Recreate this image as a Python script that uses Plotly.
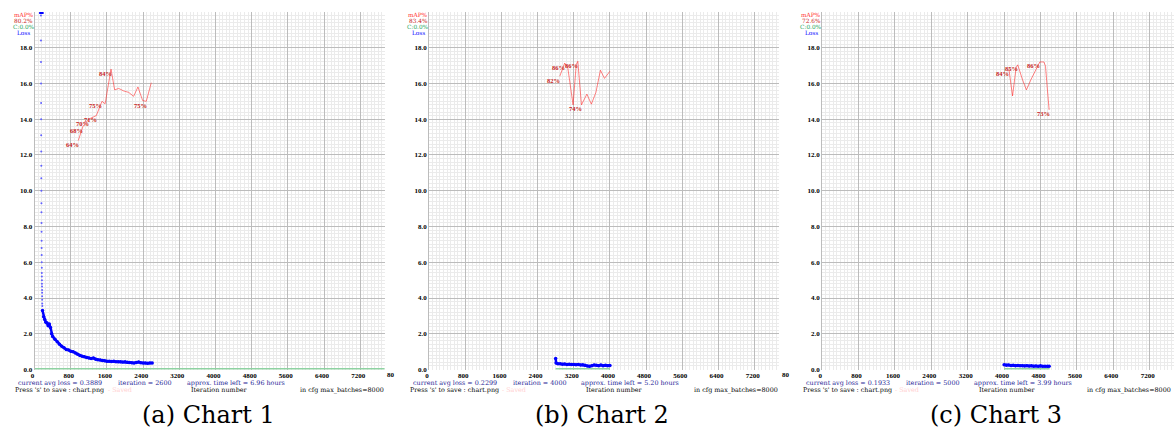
import numpy as np
import plotly.graph_objects as go

# ---------------- data ----------------
MAX_BATCHES = 8000
LOSS_MAX = 20.0
X_END = 7740  # visible part of the iteration axis (the right edge of each chart is cropped)

X_TICKS = [0, 800, 1600, 2400, 3200, 4000, 4800, 5600, 6400, 7200]
Y_TICKS = [0.0, 2.0, 4.0, 6.0, 8.0, 10.0, 12.0, 14.0, 16.0, 18.0]

CAPTIONS = ["(a) Chart 1", "(b) Chart 2", "(c) Chart 3"]
AVG_LOSS = [0.3889, 0.2299, 0.1933]
ITERATION = [2600, 4000, 5000]
TIME_LEFT = [6.96, 5.20, 3.99]
MAP_NOW = [80.2, 83.4, 72.6]
CONTRASTIVE = [0.0, 0.0, 0.0]

# Chart 1 -------------------------------------------------------------
LOSS1_CLIPPED_ITERS = [100, 200]          # loss above the chart maximum (drawn at the top)
LOSS1_CLIPPED = [20.0, 20.0]
LOSS1_SPIKE_ITERS = list(range(140, 171))
LOSS1_SPIKE = [19.8, 18.4, 17.2, 16.0, 14.9, 14.0, 13.1, 12.2, 11.4, 10.7, 10.0,
               9.3, 8.8, 8.2, 7.7, 7.2, 6.8, 6.4, 6.0, 5.7, 5.4, 5.2, 5.0, 4.8,
               4.65, 4.45, 4.3, 4.1, 3.9, 3.7, 3.55]
LOSS1_ITERS = [175, 200, 225, 250, 275, 300, 325, 350, 375, 400, 450, 500, 550, 600,
               650, 700, 750, 800, 850, 900, 950, 1000, 1050, 1100, 1150, 1200, 1250,
               1300, 1350, 1400, 1450, 1500, 1550, 1600, 1650, 1700, 1750, 1800, 1850,
               1900, 1950, 2000, 2050, 2100, 2150, 2200, 2250, 2300, 2350, 2400, 2450,
               2500, 2550, 2600]
LOSS1 = [3.3, 2.95, 2.8, 2.65, 2.6, 2.45, 2.55, 2.35, 2.0, 1.85, 1.7, 1.55, 1.42, 1.3,
         1.22, 1.12, 1.1, 1.02, 1.0, 0.93, 0.85, 0.78, 0.75, 0.72, 0.68, 0.65, 0.62,
         0.64, 0.58, 0.55, 0.53, 0.5, 0.49, 0.47, 0.46, 0.45, 0.46, 0.44, 0.43, 0.44,
         0.42, 0.43, 0.41, 0.4, 0.38, 0.37, 0.39, 0.42, 0.38, 0.36, 0.37, 0.35, 0.37, 0.36]
MAP1_ITERS = [965, 1070, 1195, 1365, 1490, 1560, 1690, 1770, 1860, 1970, 2080, 2190,
              2285, 2390, 2470, 2580]
MAP1 = [64, 68, 70, 71, 75, 74.3, 84, 78.2, 78.6, 77.9, 77.5, 76.4, 79.0, 75.2, 75.0, 80.2]
MAP1_LABELLED = [0, 1, 2, 3, 4, 6, 14]
C1_ITERS = [0, 8000]

# Chart 2 -------------------------------------------------------------
LOSS2_ITERS = [2800, 2810, 2850, 2900, 2950, 3000, 3050, 3100, 3150, 3200, 3250, 3300,
               3350, 3400, 3450, 3500, 3550, 3600, 3650, 3700, 3750, 3800, 3850, 3900,
               3950, 4000]
LOSS2 = [0.62, 0.36, 0.33, 0.32, 0.3, 0.31, 0.29, 0.3, 0.28, 0.29, 0.27, 0.28, 0.26,
         0.27, 0.24, 0.2, 0.19, 0.22, 0.26, 0.24, 0.22, 0.25, 0.21, 0.24, 0.22, 0.23]
MAP2_ITERS = [2890, 3000, 3070, 3185, 3255, 3290, 3370, 3490, 3590, 3690, 3790, 3880, 4000]
MAP2 = [82, 85.7, 84.2, 74.0, 85.3, 86.2, 74.0, 77.0, 74.2, 77.5, 83.7, 81.4, 83.4]
MAP2_LABELLED = [0, 1, 5, 6]
C2_ITERS = [2800, 4000]

# Chart 3 -------------------------------------------------------------
LOSS3_ITERS = [4000, 4050, 4100, 4150, 4200, 4250, 4300, 4350, 4400, 4450, 4500, 4550,
               4600, 4650, 4700, 4750, 4800, 4850, 4900, 4950, 4990]
LOSS3 = [0.27, 0.24, 0.25, 0.23, 0.24, 0.22, 0.23, 0.21, 0.22, 0.2, 0.21, 0.2, 0.21,
         0.19, 0.2, 0.19, 0.21, 0.19, 0.18, 0.19, 0.18]
MAP3_ITERS = [4105, 4185, 4265, 4300, 4400, 4490, 4595, 4695, 4785, 4875, 4910, 4945, 4990]
MAP3 = [84, 76.5, 84.5, 85.2, 81.2, 78.2, 81.2, 83.9, 86.0, 86.0, 84.8, 79.3, 72.6]
MAP3_LABELLED = [0, 3, 8, 12]
C3_ITERS = [4000, 5000]

# ---------------- layout geometry (pixels) ----------------
W, H = 1176, 434
PLOT_LEFT = [30.7, 426.5, 821.0]
PLOT_WIDTH = [351.2, 351.2, 353.2]
PLOT_TOP, PLOT_BOTTOM = 12, 373

MAJOR = "#bcbcbc"
MINOR = "#ebebeb"
TICK_FONT = dict(family="Liberation Serif", size=7, color="black", weight="bold")
LABEL_FONT = dict(family="Liberation Serif", size=6.5, weight="bold")
HEAD_FONT_FAMILY, HEAD_FS = "DejaVu Serif", 5.8
STATUS_FONT_FAMILY, STATUS_FS = "DejaVu Serif", 6.4

def px(x):
    return x / W

def py(y):
    return 1 - y / H

fig = go.Figure()

charts = [
    dict(loss_x=LOSS1_ITERS, loss=LOSS1, map_x=MAP1_ITERS, mp=MAP1, lab=MAP1_LABELLED, c_x=C1_ITERS),
    dict(loss_x=LOSS2_ITERS, loss=LOSS2, map_x=MAP2_ITERS, mp=MAP2, lab=MAP2_LABELLED, c_x=C2_ITERS),
    dict(loss_x=LOSS3_ITERS, loss=LOSS3, map_x=MAP3_ITERS, mp=MAP3, lab=MAP3_LABELLED, c_x=C3_ITERS),
]

annotations = []
layout_axes = {}
for k, ch in enumerate(charts):
    n = "" if k == 0 else str(k + 1)
    xa, ya = "x" + n, "y" + n
    L = PLOT_LEFT[k]
    layout_axes["xaxis" + n] = dict(
        domain=[px(L), px(L + PLOT_WIDTH[k])], anchor=ya, range=[0, X_END],
        tickmode="array", tickvals=X_TICKS, ticktext=[str(v) for v in X_TICKS],
        showgrid=True, gridcolor=MAJOR, gridwidth=1, zeroline=False,
        minor=dict(tickmode="linear", tick0=0, dtick=80, showgrid=True, gridcolor=MINOR, gridwidth=1),
        ticks="", showline=False, tickfont=TICK_FONT,
        ticklabelshift=-2, ticklabelstandoff=0,
    )
    layout_axes["yaxis" + n] = dict(
        domain=[py(PLOT_BOTTOM), py(PLOT_TOP)], anchor=xa, range=[0, LOSS_MAX],
        tickmode="array", tickvals=Y_TICKS, ticktext=[f"{v:.1f}" for v in Y_TICKS],
        showgrid=True, gridcolor=MAJOR, gridwidth=1, zeroline=False,
        minor=dict(tickmode="linear", tick0=0, dtick=0.2, showgrid=True, gridcolor=MINOR, gridwidth=1),
        ticks="", showline=True, linecolor=MAJOR, linewidth=1, tickfont=TICK_FONT,
    )

    # contrastive accuracy (green, at 0)
    fig.add_trace(go.Scatter(x=ch["c_x"], y=[CONTRASTIVE[k]] * len(ch["c_x"]), xaxis=xa, yaxis=ya,
                             mode="lines", line=dict(color="#8fd2a2", width=3), hoverinfo="skip"))
    if k == 0:
        fig.add_trace(go.Scatter(x=LOSS1_CLIPPED_ITERS, y=np.minimum(LOSS1_CLIPPED, LOSS_MAX),
                                 xaxis=xa, yaxis=ya, mode="lines",
                                 line=dict(color="#0000ff", width=4), hoverinfo="skip"))
        fig.add_trace(go.Scatter(x=LOSS1_SPIKE_ITERS, y=LOSS1_SPIKE, xaxis=xa, yaxis=ya,
                                 mode="markers", marker=dict(color="#6060ff", size=2), hoverinfo="skip"))
    # loss
    fig.add_trace(go.Scatter(x=ch["loss_x"], y=ch["loss"], xaxis=xa, yaxis=ya, mode="lines+markers",
                             line=dict(color="#0000ff", width=2.5), marker=dict(color="#0000ff", size=3.5),
                             hoverinfo="skip"))
    # mAP (scaled so that 100% = top of chart)
    map_y = np.array(ch["mp"]) / 100.0 * LOSS_MAX
    fig.add_trace(go.Scatter(x=ch["map_x"], y=map_y, xaxis=xa, yaxis=ya, mode="lines",
                             line=dict(color="rgba(255,30,30,0.55)", width=1), hoverinfo="skip"))
    for i in ch["lab"]:
        annotations.append(dict(x=ch["map_x"][i], y=map_y[i], xref=xa, yref=ya,
                                text=f"{ch['mp'][i]:.0f}%", showarrow=False,
                                xshift=-6, yshift=-4, borderpad=0,
                                font=dict(LABEL_FONT, color="#c81e1e")))

    # header legend texts
    for text, yy, col in [("mAP%", 15, "#ff3030"), (f"{MAP_NOW[k]:.1f}%", 21, "#c81e1e"),
                          (f"C:{CONTRASTIVE[k]:.1f}%", 27.3, "#2ca860"), ("Loss", 33.3, "#0000ff")]:
        annotations.append(dict(x=px(L - 11), y=py(yy), xref="paper", yref="paper", text=text,
                                showarrow=False, xanchor="center", yanchor="middle", borderpad=0,
                                font=dict(family=HEAD_FONT_FAMILY, size=HEAD_FS, color=col)))

    # bottom status texts
    status = [
        (f"current avg loss = {AVG_LOSS[k]:.4f}", L - 17.5, 386.5, "#1e1e96"),
        (f"iteration = {ITERATION[k]}", L + 83, 386.5, "#1e1e96"),
        (f"approx. time left = {TIME_LEFT[k]:.2f} hours", L + 151.5, 386.5, "#1e1e96"),
        ("Press 's' to save : chart.png", L - 20.5, 393.2, "black"),
        ("- Saved", L + 72.5, 393.2, "#ffd0d0"),
        ("Iteration number", L + 156, 393.2, "black"),
        (f"in cfg max_batches={MAX_BATCHES}", L + 265, 393.2, "black"),
    ]
    for text, xx, yy, col in status:
        annotations.append(dict(x=px(xx), y=py(yy), xref="paper", yref="paper", text=text,
                                showarrow=False, xanchor="left", yanchor="middle", borderpad=0,
                                font=dict(family=STATUS_FONT_FAMILY, size=STATUS_FS, color=col)))
    # clipped "8000" tick label at the cropped right edge
    if k < 2:
        annotations.append(dict(x=px(L + 358), y=py(378.5), xref="paper", yref="paper", text="80",
                                showarrow=False, xanchor="center", yanchor="middle", borderpad=0,
                                font=TICK_FONT))
    # caption
    annotations.append(dict(x=px(L + 174), y=py(419), xref="paper", yref="paper", text=CAPTIONS[k],
                            showarrow=False, xanchor="center", yanchor="middle",
                            font=dict(family="DejaVu Serif", size=24, color="black")))

fig.update_layout(
    width=W, height=H, margin=dict(l=0, r=0, t=0, b=0),
    paper_bgcolor="white", plot_bgcolor="white", showlegend=False,
    annotations=annotations, **layout_axes,
)

fig.write_html("out.html", config={"displayModeBar": False},
               post_script="document.body.style.margin='0px';document.body.style.overflow='hidden';")
